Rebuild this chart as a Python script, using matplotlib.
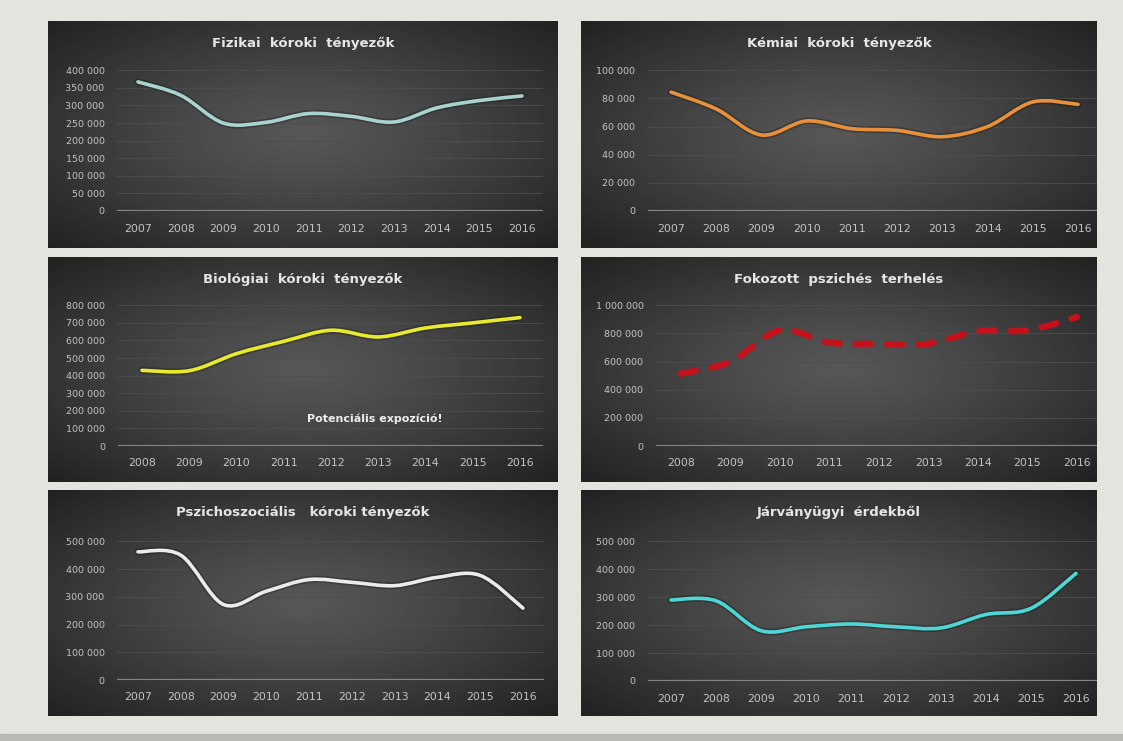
import matplotlib.pyplot as plt
import numpy as np
from matplotlib.path import Path
from matplotlib.patches import PathPatch

W, H = 1123, 741

# data
years_a = ["2007", "2008", "2009", "2010", "2011", "2012", "2013", "2014", "2015", "2016"]
years_b = ["2008", "2009", "2010", "2011", "2012", "2013", "2014", "2015", "2016"]

fizikai = [367000, 329000, 250000, 252000, 277000, 269000, 253000, 293000, 314000, 327000]
kemiai = [84500, 72500, 54000, 64000, 58500, 57300, 52800, 60000, 77500, 75800]
biologiai = [430000, 428000, 525000, 595000, 658000, 620000, 671000, 700000, 730000]
fokozott = [514000, 600000, 822000, 735000, 727000, 727000, 815000, 822000, 917000]
pszicho = [462000, 450000, 272000, 320000, 362000, 352000, 340000, 370000, 377000, 259000]
jarvany = [290000, 287000, 180000, 194000, 204000, 194000, 190000, 238000, 260000, 385000]

titles = ["Fizikai  kóroki  tényezők", "Kémiai  kóroki  tényezők",
          "Biológiai  kóroki  tényezők", "Fokozott  pszichés  terhelés",
          "Pszichoszociális   kóroki tényezők", "Járványügyi  érdekből"]


def box(x0, y0, x1, y1):
    return [x0 / W, 1 - y1 / H, (x1 - x0) / W, (y1 - y0) / H]


def smooth_path(ys):
    # excel-like smoothed line: cubic bezier through the data points
    pts = np.column_stack([np.arange(len(ys)), ys]).astype(float)
    verts = [pts[0]]
    codes = [Path.MOVETO]
    for i in range(len(pts) - 1):
        p0 = pts[i - 1] if i > 0 else pts[i]
        p1, p2 = pts[i], pts[i + 1]
        p3 = pts[i + 2] if i + 2 < len(pts) else pts[i + 1]
        verts += [p1 + (p2 - p0) / 6, p2 - (p3 - p1) / 6, p2]
        codes += [Path.CURVE4] * 3
    return Path(verts, codes)


def fmt(v):
    return f"{int(v):,}".replace(",", " ")


fig = plt.figure(figsize=(W / 100, H / 100), dpi=100)
fig.patch.set_facecolor("#e4e4df")
fig.add_artist(plt.Rectangle((0, 0), 1, 7 / H, transform=fig.transFigure,
                             color="#b9b9b5", zorder=0))

# radial gradient for the dark panels
gy, gx = np.mgrid[-1:1:200j, -1:1:300j]
r = np.sqrt(gx ** 2 + gy ** 2) / np.sqrt(2)
grad = 0.34 - 0.21 * r ** 1.2

panels = [
    # panel box, axes box, first/last label px, series, labels, ymax, step, color, style
    ((48, 21, 558, 248), (117, 70, 543, 211), (138, 522), fizikai, years_a, 400000, 50000, "#a9d3d1", "solid"),
    ((581, 21, 1097, 248), (648, 70, 1097, 211), (671, 1078), kemiai, years_a, 100000, 20000, "#e8913a", "solid"),
    ((48, 257, 558, 482), (118, 305, 543, 446), (142, 520), biologiai, years_b, 800000, 100000, "#eaea2c", "solid"),
    ((581, 257, 1097, 482), (656, 305, 1097, 446), (681, 1077), fokozott, years_b, 1000000, 200000, "#c4121c", "dash"),
    ((48, 490, 558, 716), (117, 541, 544, 680), (138, 523), pszicho, years_a, 500000, 100000, "#ebebeb", "solid"),
    ((581, 490, 1097, 716), (648, 541, 1097, 681), (671, 1076), jarvany, years_a, 500000, 100000, "#4fd6d6", "solid"),
]

for k, (pb, ab, lab, vals, labels, ymax, step, color, style) in enumerate(panels):
    bg = fig.add_axes(box(*pb))
    bg.imshow(grad, cmap="gray", vmin=0, vmax=1, aspect="auto", extent=(0, 1, 0, 1))
    bg.set_axis_off()
    bg.text(0.5, 0.9, titles[k], transform=bg.transAxes, ha="center", va="center",
            color="#e6e6e6", fontsize=9.5, fontweight="bold")

    ax = fig.add_axes(box(*ab))
    ax.set_facecolor("none")
    n = len(vals)
    s = (lab[1] - lab[0]) / (n - 1)
    ax.set_xlim((ab[0] - lab[0]) / s, (ab[2] - lab[0]) / s)
    ax.set_ylim(0, ymax * 1.002)
    ticks = np.arange(0, ymax + 1, step)
    ax.set_yticks(ticks)
    ax.set_yticklabels([fmt(t) for t in ticks])
    ax.set_xticks(range(n))
    ax.set_xticklabels(labels)
    for sp in ax.spines.values():
        sp.set_visible(False)
    ax.tick_params(axis="y", length=0, pad=9, labelsize=6.8, labelcolor="#c4c4c4")
    ax.tick_params(axis="x", length=0, pad=9, labelsize=7.8, labelcolor="#c4c4c4")
    for t in ticks[1:]:
        ax.axhline(t, color="#4e4e4e", lw=0.6, zorder=1)
    ax.axhline(0, color="#858585", lw=1.6, zorder=1)

    path = smooth_path(vals)
    if style == "dash":
        ax.add_patch(PathPatch(path, fill=False, edgecolor=color, lw=4.6,
                               linestyle=(0, (2.4, 2.5)), capstyle="round",
                               joinstyle="round", zorder=3))
    else:
        ax.add_patch(PathPatch(path, fill=False, edgecolor="#101010", lw=5, alpha=0.3,
                               capstyle="round", joinstyle="round", zorder=2))
        ax.add_patch(PathPatch(path, fill=False, edgecolor=color, lw=2.6,
                               capstyle="round", joinstyle="round", zorder=3))

    if k == 2:
        ax.text(4.93, 155000, "Potenciális expozíció!", ha="center", va="center",
                color="#eeeeee", fontsize=8, fontweight="bold")

fig.savefig("out.png", dpi=100, facecolor=fig.get_facecolor())
